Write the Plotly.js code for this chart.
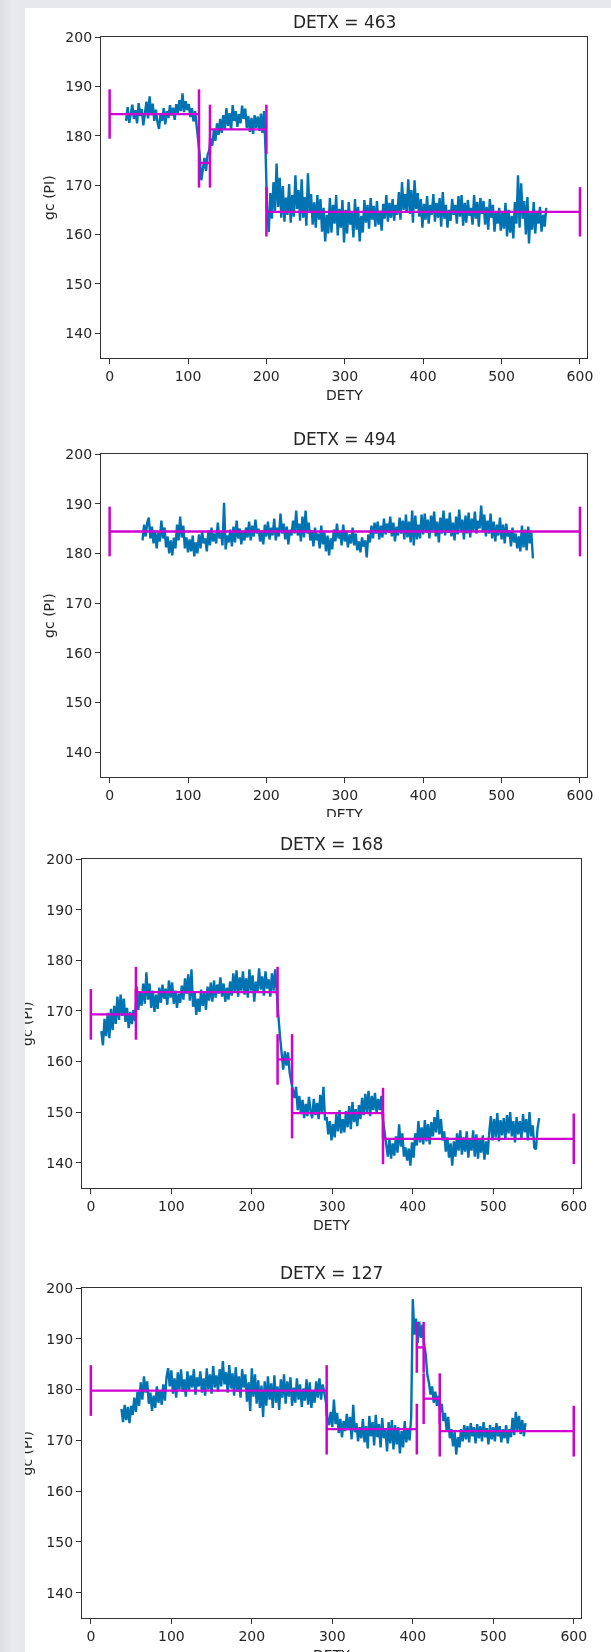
<!DOCTYPE html>
<html>
<head>
<meta charset="utf-8">
<script src="https://cdn.plot.ly/plotly-3.0.1.min.js"></script>
<style>
  html, body { margin: 0; padding: 0; }
  body { width: 611px; height: 1652px; position: relative; overflow: hidden;
         background: linear-gradient(to right, #dcdfe3 0px, #e8eaed 12px, #e6e8eb 25px); }
  .sheet { position: absolute; left: 25px; width: 586px; top: 8px; height: 1644px; background: #ffffff; }
  .panel { position: absolute; left: 25px; width: 586px; overflow: hidden; background: #ffffff; filter: blur(0.35px); }
</style>
</head>
<body>
<div class="sheet"></div>
<div id="p1" class="panel" style="top:8px;height:412px;"></div>
<div id="p2" class="panel" style="top:420px;height:397px;"></div>
<div id="p3" class="panel" style="top:817px;height:423px;"></div>
<div id="p4" class="panel" style="top:1240px;height:412px;"></div>
<script>
// ---------------- DATA ----------------
const titles = ["DETX = 463", "DETX = 494", "DETX = 168", "DETX = 127"];
const xTickVals = [0, 100, 200, 300, 400, 500, 600];
const yTickVals = [140, 150, 160, 170, 180, 190, 200];
const xLabel = "DETY";
const yLabel = "gc (PI)";
const errHalf = 5;

// DETX = 463 : gc sampled every 2 DETY from 21
const dety463Start = 21, dety463Step = 2;
const gc463 = [
183.0,185.8,182.6,184.9,186.3,183.4,185.2,182.5,186.6,184.0,
185.4,182.1,184.6,186.9,183.5,188.0,184.2,186.5,183.0,185.3,
182.8,181.4,184.4,183.0,185.6,182.3,185.0,183.6,186.2,184.1,
185.7,183.2,186.4,184.5,187.2,185.0,188.6,184.8,187.0,185.2,
186.4,183.8,185.6,182.9,185.0,182.0,180.2,176.0,171.0,173.8,
175.5,172.9,176.2,177.0,179.4,178.0,181.2,179.0,182.5,180.2,
183.4,180.6,184.2,181.4,185.6,182.0,184.6,181.2,186.2,183.0,
185.0,181.8,184.4,182.5,186.1,183.4,185.5,181.6,184.0,180.8,
183.6,180.4,184.2,181.6,183.9,181.0,184.5,180.6,185.0,176.5,
164.5,160.5,168.4,163.2,170.6,164.8,174.4,165.6,171.5,163.4,
169.8,162.6,167.5,164.0,170.2,162.4,168.0,163.6,172.0,165.2,
169.0,162.8,171.2,163.4,167.6,161.8,172.4,164.6,168.2,162.0,
166.5,161.4,168.0,163.0,167.2,160.6,165.4,158.6,164.0,160.2,
167.4,160.4,166.0,162.2,168.0,159.8,165.2,161.4,167.0,158.4,
165.0,160.2,166.6,162.0,164.4,159.4,167.2,161.0,165.6,158.6,
163.8,160.4,167.0,162.4,166.0,161.2,167.4,163.0,165.8,161.6,
166.8,162.0,164.8,160.8,166.2,163.2,168.0,162.6,166.4,163.4,
167.2,162.8,166.0,164.0,168.6,163.0,170.6,165.0,168.2,164.4,
171.2,164.2,169.0,162.4,171.0,165.2,168.4,163.6,167.2,161.4,
166.2,163.0,167.8,162.2,166.0,164.0,168.2,162.6,166.4,163.4,
167.4,161.6,168.6,163.2,166.0,161.4,165.0,162.8,167.2,164.0,
166.0,162.2,167.8,163.6,168.0,161.8,166.4,162.4,167.0,163.8,
165.4,162.0,168.0,163.2,166.6,161.6,167.4,164.2,166.8,162.0,
165.6,161.0,167.2,163.4,166.0,160.6,164.6,162.2,165.4,160.8,
164.4,161.2,166.4,159.6,165.0,160.4,163.8,159.2,166.6,162.2,
172.0,161.4,170.4,163.2,166.8,160.0,167.6,158.2,164.6,161.0,
166.6,160.2,164.8,162.2,165.6,160.6,164.0,161.6,165.4
];
const seg463Start = [0, 114, 128, 200];
const seg463End   = [114, 128, 200, 600];
const seg463Mean  = [184.4, 174.5, 181.3, 164.6];

// DETX = 494
const dety494Start = 42, dety494Step = 2;
const gc494 = [
182.6,185.8,183.4,186.2,187.2,183.0,185.4,182.0,184.6,181.0,
184.2,182.4,186.6,183.0,185.2,181.2,183.4,180.0,182.6,179.6,
183.2,181.0,185.8,182.6,187.4,183.2,185.6,181.0,183.2,180.2,
182.8,180.4,183.6,179.4,182.2,180.0,183.8,181.0,184.4,182.0,
183.0,180.4,184.6,181.6,185.2,182.4,184.0,182.0,186.2,183.0,
184.2,181.6,190.2,180.8,183.6,182.2,184.8,181.4,185.4,182.2,
186.6,183.0,185.0,181.8,184.4,182.6,185.2,183.2,186.4,182.6,
185.6,183.4,186.8,184.0,185.0,182.4,184.6,181.8,185.8,183.4,
186.4,182.8,185.2,183.6,187.0,182.6,185.2,183.4,188.0,184.0,
186.0,182.8,185.4,181.8,184.8,183.6,186.6,184.0,188.6,183.6,
186.0,182.4,187.4,183.2,188.6,184.0,186.2,182.6,184.6,181.4,
185.2,182.6,184.0,181.0,185.6,181.8,184.2,180.4,183.6,179.6,
183.0,180.8,184.8,182.4,186.0,183.0,184.4,181.6,185.8,182.4,
184.6,181.2,183.8,182.0,185.2,181.6,184.0,180.6,182.4,180.2,
183.2,181.4,182.6,179.2,183.8,182.2,185.6,183.0,186.2,184.0,
186.4,182.8,185.6,183.2,187.0,183.8,186.0,184.2,187.4,183.4,
186.2,182.4,185.4,183.6,187.2,184.0,186.6,182.8,187.8,183.2,
186.4,182.2,188.6,181.6,187.6,182.8,185.8,183.0,187.8,183.8,
188.0,184.2,186.8,183.0,187.6,184.6,188.4,183.4,186.4,182.2,
187.2,184.0,188.6,183.6,187.0,184.2,188.2,183.4,186.2,182.6,
187.4,183.8,188.8,184.4,186.8,182.8,187.6,184.0,188.2,183.2,
187.0,184.6,188.4,184.0,186.6,185.0,189.6,184.2,187.8,183.4,
186.6,184.0,188.0,183.0,186.4,182.4,185.8,183.6,187.2,182.8,
185.8,182.0,186.0,183.4,184.6,181.4,185.2,182.2,184.0,181.0,
183.4,180.4,185.6,181.2,184.8,180.6,185.4,182.0,184.2,179.0
];
const seg494Start = [0];
const seg494End   = [600];
const seg494Mean  = [184.4];

// DETX = 168
const dety168Start = 13, dety168Step = 2;
const gc168 = [
166.0,163.2,168.4,165.0,169.6,164.6,170.4,166.2,171.0,167.4,
172.8,168.2,173.2,169.0,172.4,167.8,170.6,166.6,169.8,167.4,
170.2,168.0,174.8,170.2,173.6,171.0,175.4,171.4,177.6,172.2,
175.4,170.6,174.0,169.8,173.2,170.4,174.6,171.6,175.2,172.4,
174.4,171.2,176.0,172.6,175.6,171.4,174.0,170.6,173.4,171.6,
175.0,172.2,176.4,173.4,177.2,172.0,178.2,170.8,173.6,169.2,
172.4,169.8,174.2,171.0,173.6,170.2,174.8,172.0,175.6,171.8,
176.0,172.6,175.2,173.4,176.6,172.8,175.4,171.8,174.6,172.2,
175.8,173.0,177.4,173.6,178.0,172.8,176.6,174.0,177.8,173.2,
176.4,172.6,178.2,174.0,177.0,171.8,175.8,173.6,178.4,174.2,
176.8,173.0,177.8,174.4,176.2,172.8,177.4,174.0,178.2,172.6,
169.0,165.0,161.6,158.4,162.0,159.2,161.8,157.8,156.0,154.4,
152.8,155.0,150.4,153.2,149.6,152.4,148.8,151.6,149.2,153.0,
150.2,148.8,152.6,149.4,151.8,148.6,153.4,150.0,155.0,148.4,
149.0,145.6,148.2,144.4,147.6,145.0,149.6,146.2,150.4,145.8,
148.6,146.0,150.2,147.0,151.2,146.6,152.0,148.0,150.6,147.2,
151.4,148.6,152.8,149.4,153.6,150.0,154.2,149.2,153.2,150.4,
153.8,149.8,152.6,150.4,153.2,148.4,146.2,143.0,141.2,144.6,
140.8,143.8,141.4,145.2,142.0,147.6,143.2,145.8,141.2,143.0,
140.4,142.8,139.4,144.0,141.0,145.8,143.4,148.2,144.0,147.0,
143.6,148.4,144.2,147.6,143.6,148.0,145.2,149.0,146.0,150.4,
145.6,148.6,144.4,146.2,142.2,145.0,141.0,143.8,139.4,144.2,
141.2,145.8,142.4,146.4,141.6,145.0,142.2,146.2,141.0,144.6,
142.4,146.4,141.2,145.6,140.8,144.8,142.0,145.4,140.6,144.2,
141.6,146.0,149.2,144.4,148.6,145.0,149.8,144.2,148.4,145.4,
148.8,144.6,149.4,145.8,150.0,145.2,148.2,144.0,149.0,145.6,
148.2,144.8,149.6,146.0,148.6,144.4,150.0,145.2,147.4,143.0,
142.6,146.8,148.8
];
const seg168Start = [0, 56, 232, 250, 363];
const seg168End   = [56, 232, 250, 363, 600];
const seg168Mean  = [169.3, 173.7, 160.4, 149.8, 144.7];

// DETX = 127
const dety127Start = 38, dety127Step = 2;
const gc127 = [
176.2,173.6,177.0,174.0,176.6,173.4,176.8,175.0,178.4,175.6,
179.6,176.8,181.4,178.0,182.6,179.4,181.6,177.2,179.4,175.8,
178.8,176.4,180.6,177.4,179.8,177.0,181.0,177.8,182.4,184.2,
180.6,183.8,179.2,182.2,178.4,183.4,180.0,184.0,179.6,182.0,
178.6,183.6,179.8,182.8,180.4,184.0,179.0,182.4,180.6,183.6,
179.4,182.2,178.8,184.2,180.0,183.0,179.2,184.6,180.4,182.8,
179.6,184.0,180.6,185.6,181.0,183.4,179.4,184.8,180.2,183.2,
178.8,184.4,179.6,182.6,178.4,184.0,180.4,183.0,177.6,181.4,
175.8,184.2,178.6,183.0,177.2,181.8,176.4,180.8,174.6,181.6,
176.8,182.6,178.0,181.2,176.4,182.8,177.4,180.6,176.0,182.0,
178.4,183.0,177.2,181.6,178.6,182.4,176.8,180.4,177.4,182.2,
178.0,181.0,176.6,180.2,177.8,182.0,177.0,181.4,176.4,179.8,
177.4,181.6,178.4,182.2,178.0,181.0,179.4,177.6,174.4,173.0,
175.6,172.6,178.0,173.2,175.4,171.4,174.2,170.6,173.8,171.8,
175.2,172.0,174.6,170.2,177.0,171.6,173.4,169.8,172.6,170.4,
174.2,169.6,172.8,168.4,174.8,170.8,173.6,169.0,175.0,170.6,
173.2,168.6,174.4,170.4,172.2,167.8,173.6,169.4,174.0,168.2,
173.0,169.2,172.6,167.4,171.8,168.6,173.8,169.6,172.4,170.0,
174.6,197.8,190.8,194.0,189.2,193.4,190.2,192.8,189.0,187.0,
183.0,181.4,179.0,180.6,177.4,179.6,176.8,178.8,175.6,177.2,
173.8,175.4,172.0,174.6,170.4,172.2,168.8,171.6,167.2,170.6,
168.6,172.2,169.8,173.0,170.2,172.8,169.6,173.4,170.8,172.6,
169.4,173.2,170.4,172.8,169.8,173.6,170.6,172.4,169.2,173.0,
170.2,172.6,169.8,173.4,170.8,172.8,169.6,172.2,170.4,173.0,
169.4,172.2,170.6,174.4,171.0,175.6,172.0,174.8,171.2,174.0,
170.8,173.4
];
const seg127Start = [0, 293, 405, 413.5, 433.5];
const seg127End   = [293, 405, 413.5, 433.5, 600];
const seg127Mean  = [179.8, 172.2, 188.3, 178.2, 171.8];

// ---------------- DRAWING ----------------
const BLUE = "#0173b2";
const MAG = "#d000d0";
const TXT = "#262626";
const FONT = "DejaVu Sans, sans-serif";

function detyAxis(start, step, n) {
  const out = [];
  for (let i = 0; i < n; i++) out.push(start + i * step);
  return out;
}

const panels = [
  { id: "p1", title: titles[0], x: detyAxis(dety463Start, dety463Step, gc463.length), y: gc463,
    s: seg463Start, e: seg463End, m: seg463Mean,
    w: 586, h: 412, l: 76.3, r: 23.7, t: 28.7, b: 61.7, ylx: -52.6 },
  { id: "p2", title: titles[1], x: detyAxis(dety494Start, dety494Step, gc494.length), y: gc494,
    s: seg494Start, e: seg494End, m: seg494Mean,
    w: 586, h: 397, l: 76.3, r: 23.7, t: 33.5, b: 40.3, ylx: -52.6 },
  { id: "p3", title: titles[2], x: detyAxis(dety168Start, dety168Step, gc168.length), y: gc168,
    s: seg168Start, e: seg168End, m: seg168Mean,
    w: 586, h: 423, l: 56.8, r: 29.6, t: 42.3, b: 51.7, ylx: -55.5 },
  { id: "p4", title: titles[3], x: detyAxis(dety127Start, dety127Step, gc127.length), y: gc127,
    s: seg127Start, e: seg127End, m: seg127Mean,
    w: 586, h: 412, l: 56.8, r: 29.6, t: 47.8, b: 33.7, ylx: -55.5 }
];

panels.forEach(function (p) {
  const traces = [{
    x: p.x, y: p.y, type: "scatter", mode: "lines",
    line: { color: BLUE, width: 2.4 }, hoverinfo: "skip"
  }];
  for (let i = 0; i < p.s.length; i++) {
    traces.push({
      x: [p.s[i], p.e[i]], y: [p.m[i], p.m[i]], type: "scatter", mode: "lines",
      line: { color: MAG, width: 2.3 },
      error_y: { type: "constant", value: errHalf, width: 0, thickness: 2.5, color: MAG },
      hoverinfo: "skip"
    });
  }
  const axisCommon = {
    showgrid: false, zeroline: false, showline: true, mirror: true,
    linecolor: "#333333", linewidth: 1.1,
    ticks: "outside", ticklen: 5, tickwidth: 1, tickcolor: "#333333",
    tickfont: { family: FONT, size: 14, color: TXT }
  };
  const layout = {
    width: p.w, height: p.h,
    margin: { l: p.l, r: p.r, t: p.t, b: p.b, pad: 0 },
    paper_bgcolor: "#ffffff", plot_bgcolor: "#ffffff",
    showlegend: false,
    xaxis: Object.assign({}, axisCommon, {
      range: [-11, 609], tickvals: xTickVals, ticktext: xTickVals.map(String)
    }),
    yaxis: Object.assign({}, axisCommon, {
      range: [135, 200], tickvals: yTickVals, ticktext: yTickVals.map(String)
    }),
    annotations: [
      { text: p.title, xref: "paper", yref: "paper", x: 0.5, y: 1, yshift: 15,
        xanchor: "center", yanchor: "middle", showarrow: false,
        font: { family: FONT, size: 17, color: TXT } },
      { text: xLabel, xref: "paper", yref: "paper", x: 0.5, y: 0, yshift: -37,
        xanchor: "center", yanchor: "middle", showarrow: false,
        font: { family: FONT, size: 14, color: TXT } },
      { text: yLabel, xref: "paper", yref: "paper", x: 0, y: 0.5, xshift: p.ylx,
        xanchor: "center", yanchor: "middle", textangle: -90, showarrow: false,
        font: { family: FONT, size: 14, color: TXT } }
    ]
  };
  Plotly.newPlot(p.id, traces, layout, { staticPlot: true, displayModeBar: false });
});
</script>
</body>
</html>
